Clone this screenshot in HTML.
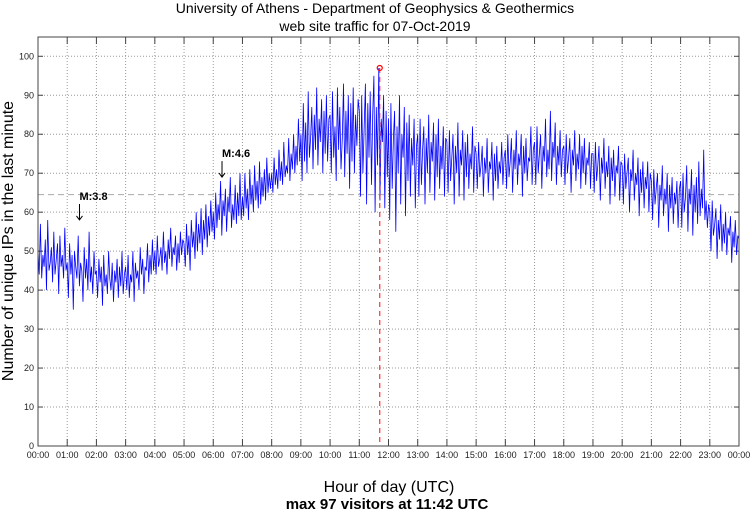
<!DOCTYPE html>
<html><head><meta charset="utf-8"><style>
body{margin:0;background:#fff;}
svg text{font-family:"Liberation Sans",sans-serif;}
</style></head><body>
<svg id="c" width="750" height="511" xmlns="http://www.w3.org/2000/svg">
<text x="375" y="13" text-anchor="middle" font-size="14">University of Athens - Department of Geophysics &amp; Geothermics</text>
<text x="375" y="31" text-anchor="middle" font-size="14">web site traffic for 07-Oct-2019</text>
<text transform="translate(13,241) rotate(-90)" text-anchor="middle" font-size="16">Number of unique IPs in the last minute</text>
<text x="389" y="492" text-anchor="middle" font-size="16">Hour of day (UTC)</text>
<text x="387" y="509" text-anchor="middle" font-size="15" font-weight="bold">max 97 visitors at 11:42 UTC</text>
<g id="grid"></g><g id="plot"></g>
</svg>
<script>
const yTicks=[0,10,20,30,40,50,60,70,80,90,100];
const xTickLabels=["00:00","01:00","02:00","03:00","04:00","05:00","06:00","07:00","08:00","09:00","10:00","11:00","12:00","13:00","14:00","15:00","16:00","17:00","18:00","19:00","20:00","21:00","22:00","23:00","00:00"];
const visitors=[
50,44,57,43,49,46,53,40,58,45,47,51,42,55,44,48,52,39,54,46,49,43,56,45,
47,38,52,44,49,35,50,46,43,54,41,47,45,37,51,43,48,40,55,42,46,39,50,44,
45,38,48,42,46,36,49,41,44,39,50,43,40,47,37,45,42,48,38,46,41,50,39,44,
46,40,49,38,44,42,50,37,47,43,45,40,51,44,48,39,46,45,52,42,49,44,53,45,
50,44,54,46,48,51,45,55,47,50,44,53,48,56,46,51,49,54,45,52,47,55,49,53,
52,46,57,49,54,45,58,51,55,48,60,50,57,52,61,49,58,53,62,51,59,54,63,55,
60,53,65,56,62,58,68,54,63,59,66,55,64,60,69,56,62,58,67,57,65,59,70,58,
64,59,70,61,66,58,71,62,67,60,72,63,68,61,73,62,69,64,71,63,74,65,70,66,
70,65,74,67,71,66,76,68,73,67,78,69,72,70,79,68,75,71,80,70,77,72,84,73,
80,68,88,73,83,70,91,74,79,87,71,85,76,92,72,84,78,89,70,86,75,90,73,84,
85,70,91,74,82,68,92,76,87,71,79,93,69,86,75,90,66,88,73,92,70,85,77,89,
86,64,90,70,82,93,62,88,74,91,67,85,95,60,87,72,97,63,84,78,90,61,86,69,
84,58,88,66,79,86,55,82,70,90,62,80,74,87,59,83,68,85,64,79,72,84,61,77,
80,64,84,67,76,82,62,79,70,85,65,78,73,83,63,80,69,84,66,77,71,82,64,79,
78,65,81,68,74,80,62,77,70,83,64,76,72,81,63,78,69,80,66,75,71,82,65,77,
75,66,78,69,72,77,64,74,70,79,65,73,71,78,63,75,68,77,66,73,70,78,67,74,
76,66,80,69,73,79,65,76,71,81,67,75,72,80,64,77,70,79,68,74,73,82,67,76,
78,67,82,70,75,80,66,77,73,84,69,76,71,86,68,78,74,83,67,77,72,81,69,76,
77,67,80,70,74,79,65,76,72,81,68,75,71,80,66,77,70,79,67,74,72,78,66,75,
75,65,78,68,72,77,63,74,70,79,66,73,69,77,62,74,68,76,64,72,70,77,63,73,
72,62,75,66,70,74,60,71,68,76,63,70,67,74,59,71,65,73,61,69,66,73,60,70,
68,58,71,62,66,70,56,67,63,72,59,66,62,70,55,67,61,69,57,65,62,68,56,66,
68,56,70,60,64,72,55,66,62,71,54,67,60,69,57,73,59,66,61,76,58,63,56,62,
60,50,63,54,57,61,48,58,53,62,50,57,52,60,49,56,54,59,47,55,51,58,49,54,53];
const meanLevel=[64.5];
const maxPoint=[11.7,97];
const quakes=[{label:"M:3.8",hour:1.42,value:58},{label:"M:4.6",hour:6.3,value:69}];
const L=38,R=739,T=37,B=446;
const X=h=>L+h*(R-L)/24;
const Y=v=>B-v*(B-56.3)/100;
const NS="http://www.w3.org/2000/svg";
const svg=document.getElementById('c'),grid=document.getElementById('grid'),plot=document.getElementById('plot');
function mk(tag,at,par){const e=document.createElementNS(NS,tag);for(const k in at)e.setAttribute(k,at[k]);par.appendChild(e);return e;}
yTicks.forEach(v=>{
 if(v>0){const g=mk('line',{x1:L,x2:R,y1:Y(v),y2:Y(v),stroke:'#999','stroke-dasharray':'1,2','stroke-width':1},grid);
 
 }
 mk('line',{x1:L,x2:L+5,y1:Y(v),y2:Y(v),stroke:'#444'},grid);
 mk('line',{x1:R-5,x2:R,y1:Y(v),y2:Y(v),stroke:'#444'},grid);
 const t=mk('text',{x:L-4,y:Y(v)+3,'text-anchor':'end','font-size':9,fill:'#222'},grid);t.textContent=v;
 
 
});
xTickLabels.forEach((s,i)=>{
 const x=X(i);
 if(i>0&&i<24){const g=mk('line',{x1:x,x2:x,y1:T,y2:B,stroke:'#999','stroke-dasharray':'1,2'},grid);
 
 }
 mk('line',{x1:x,x2:x,y1:B-7,y2:B,stroke:'#444'},grid);
 mk('line',{x1:x,x2:x,y1:T,y2:T+7,stroke:'#444'},grid);
 const t=mk('text',{x:x,y:B+12,'text-anchor':'middle','font-size':9,fill:'#222'},grid);t.textContent=s;
 
 
});
const ml=mk('line',{x1:L,x2:R,y1:Y(meanLevel[0]),y2:Y(meanLevel[0]),stroke:'#aaa','stroke-dasharray':'6,4'},plot);


const n=visitors.length-1;
const pts=visitors.map((v,i)=>X(i*24/n).toFixed(1)+','+Y(v).toFixed(1)).join(' ');
const pl=mk('polyline',{points:pts,fill:'none',stroke:'#0000ff','stroke-width':0.8},plot);


const mv=mk('line',{x1:X(maxPoint[0]),x2:X(maxPoint[0]),y1:Y(maxPoint[1]),y2:B,stroke:'#ff3030','stroke-dasharray':'5,4','stroke-width':1.2},plot);


const mc=mk('circle',{cx:X(maxPoint[0]),cy:Y(maxPoint[1]),r:2.5,fill:'none',stroke:'#ff0000','stroke-width':1.2},plot);


quakes.forEach(q=>{
 const x=X(q.hour),y=Y(q.value);
 const a=mk('path',{d:`M${x},${y-16} L${x},${y} M${x-3},${y-4} L${x},${y} L${x+3},${y-4}`,stroke:'#000',fill:'none'},plot);
 
 
 const t=mk('text',{x:x,y:y-20,'font-size':11,'font-weight':'bold'},plot);t.textContent=q.label;
 
 
});
const fr=mk('rect',{x:L,y:T,width:R-L,height:B-T,fill:'none',stroke:'#444'},plot);


</script>
</body></html>
